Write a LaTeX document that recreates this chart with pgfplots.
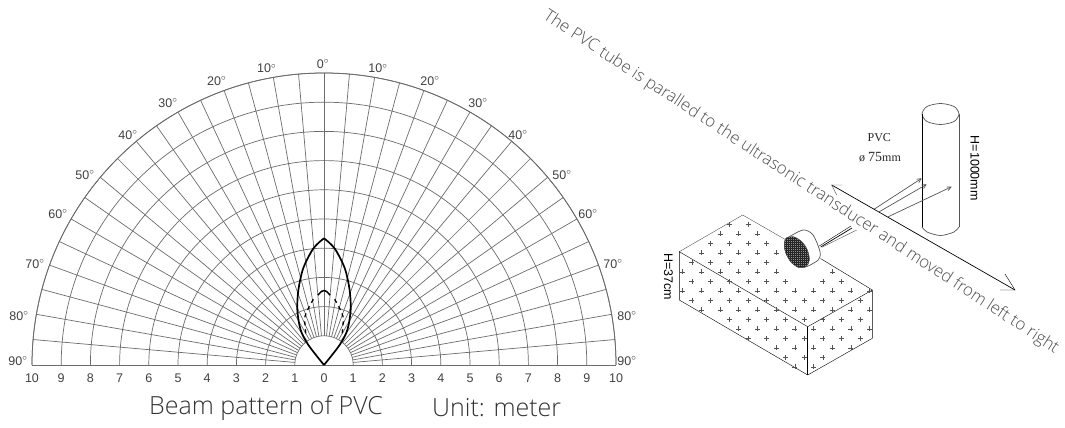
\documentclass[border=0pt]{standalone}
\usepackage{fontspec}
\setmainfont{Open Sans Light}
\newfontfamily\lib{Liberation Sans}
\newfontfamily\tnr{Liberation Serif}
\usepackage{pgfplots}
\pgfplotsset{compat=1.18}
\usepgfplotslibrary{polar}
\usetikzlibrary{arrows.meta,patterns}
\definecolor{gridc}{gray}{0.42}
\definecolor{sketch}{gray}{0.33}
\tikzset{lbl/.style={font=\lib\fontsize{12.5}{14}\selectfont, text=black!75, inner sep=0pt}}
% transducer face hatching
\pgfdeclarepatternformonly{finegrid}{\pgfqpoint{-0.2pt}{-0.2pt}}{\pgfqpoint{2pt}{2pt}}{\pgfqpoint{2pt}{2pt}}{
  \pgfsetlinewidth{0.8pt}
  \pgfpathmoveto{\pgfqpoint{0pt}{0pt}}\pgfpathlineto{\pgfqpoint{2pt}{0pt}}
  \pgfpathmoveto{\pgfqpoint{0pt}{0pt}}\pgfpathlineto{\pgfqpoint{0pt}{2pt}}
  \pgfusepath{stroke}}

\begin{document}
\begin{tikzpicture}
% canvas axis: coordinates are image pixels, y running down
\begin{axis}[
    at={(0,0)}, anchor=south west,
    scale only axis, width=1065pt, height=428pt,
    xmin=0, xmax=1065, ymin=0, ymax=428, y dir=reverse,
    hide axis, clip=false,
    cycle list={{sketch, mark=none, line width=0.7pt}},
  ]
  % box outline
  \addplot coordinates {(679.3,251.7)(742.7,215)(787,240.5)};
  \addplot coordinates {(820.5,258.5)(872.3,290)(807.7,326.7)(679.3,251.7)(679.3,300)(807.7,375)(872.3,338.3)(872.3,290)};
  \addplot coordinates {(807.7,326.7)(807.7,375)};
  % + marks on the box
  \addplot[only marks, mark=+, mark size=2.5pt, mark options={sketch, line width=0.6pt}] coordinates {
    (729.3,224.3)(748.0,224.3)
    (720.0,233.8)(738.7,233.8)(757.4,233.8)
    (710.6,243.3)(729.3,243.3)(748.0,243.3)(766.7,243.3)
    (701.3,252.8)(720.0,252.8)(738.7,252.8)(757.4,252.8)(776.1,252.8)
    (691.9,262.3)(710.6,262.3)(729.3,262.3)(748.0,262.3)(766.7,262.3)
    (682.6,271.8)(701.3,271.8)(720.0,271.8)(738.7,271.8)(757.4,271.8)(776.1,271.8)(832.2,271.8)
    (691.9,281.3)(710.6,281.3)(729.3,281.3)(748.0,281.3)(766.7,281.3)(785.4,281.3)(822.8,281.3)(841.5,281.3)
    (682.6,290.8)(701.3,290.8)(720.0,290.8)(738.7,290.8)(757.4,290.8)(776.1,290.8)(794.8,290.8)(813.5,290.8)(832.2,290.8)(850.9,290.8)(869.6,290.8)
    (691.9,300.3)(710.6,300.3)(729.3,300.3)(748.0,300.3)(766.7,300.3)(785.4,300.3)(804.1,300.3)(822.8,300.3)(841.5,300.3)(860.2,300.3)
    (701.3,309.8)(720.0,309.8)(738.7,309.8)(757.4,309.8)(776.1,309.8)(794.8,309.8)(813.5,309.8)(832.2,309.8)(850.9,309.8)(869.6,309.8)
    (729.3,319.3)(748.0,319.3)(766.7,319.3)(785.4,319.3)(804.1,319.3)(822.8,319.3)(841.5,319.3)(860.2,319.3)
    (738.7,328.8)(757.4,328.8)(776.1,328.8)(794.8,328.8)(813.5,328.8)(832.2,328.8)(850.9,328.8)(869.6,328.8)
    (748.0,338.3)(766.7,338.3)(785.4,338.3)(804.1,338.3)(822.8,338.3)(841.5,338.3)(860.2,338.3)
    (776.1,347.8)(794.8,347.8)(813.5,347.8)(832.2,347.8)(850.9,347.8)
    (785.4,357.3)(804.1,357.3)(822.8,357.3)
    (794.8,366.8)(813.5,366.8)
  };
  % transducer
  \addplot[sketch, line width=0.7pt, smooth] coordinates {(786.7,238.3)(803,230)(813,235)(820,251.7)(818.3,260)(806.7,266.7)};
  \addplot[black!60, fill=black!45, smooth cycle] coordinates {
    (786,238.3)(793.3,236.7)(801.7,241.7)(807.3,250)(809.3,260)(806,266.7)(798.3,267.3)(790.7,261.7)(785.7,252.7)(784.3,245)};
  \addplot[black!70, pattern=finegrid, pattern color=black!85, smooth cycle] coordinates {
    (786,238.3)(793.3,236.7)(801.7,241.7)(807.3,250)(809.3,260)(806,266.7)(798.3,267.3)(790.7,261.7)(785.7,252.7)(784.3,245)};
  \addplot coordinates {(819.3,246)(851,226)};
  \addplot coordinates {(820.7,247)(852,228)};
  \addplot coordinates {(821.7,247.3)(856.7,230)};
  % PVC tube
  \addplot[sketch, line width=0.7pt, smooth cycle] coordinates {(922,114)(927,106.5)(940.5,103.5)(954,106.5)(959,114)(954,121.5)(940.5,124.5)(927,121.5)};
  \addplot coordinates {(922,114)(922,227)};
  \addplot coordinates {(959,114)(959,227)};
  \addplot[sketch, line width=0.7pt, smooth] coordinates {(922,227)(927,232)(940.5,235.5)(954,232)(959,227)};
  % echoes
  \addplot[sketch, line width=0.7pt, -{Straight Barb[length=4pt,width=4pt]}] coordinates {(874,209.3)(921.7,178.3)};
  \addplot[sketch, line width=0.7pt, -{Straight Barb[length=4pt,width=4pt]}] coordinates {(879.3,211.7)(926.7,184.3)};
  \addplot[sketch, line width=0.7pt, -{Straight Barb[length=4pt,width=4pt]}] coordinates {(888.3,216.7)(951.7,186.7)};
  % motion arrow
  \addplot coordinates {(831.7,185)(1015,290)};
  \addplot coordinates {(842.7,185)(831.7,185)(836.7,195)};
  \addplot coordinates {(1000,290)(1015,290)(1005,274)};

  % texts
  \node[font=\fontsize{16.8}{18}\selectfont, text=black!70, rotate=-33.2, inner sep=0pt] at (axis cs:801,182.5)
    {The PVC tube is paralled to the ultrasonic transducer and moved from left to right};
  \node[font=\tnr\fontsize{12}{14}\selectfont, text=black!85, inner sep=0pt] at (axis cs:879.3,137.3) {PVC};
  \node[font=\tnr\fontsize{12}{14}\selectfont, text=black!85, inner sep=0pt] at (axis cs:880,156.7) {\o{} {\fontsize{14}{14}\selectfont 75}mm};
  \node[font=\lib\fontsize{12.5}{14}\selectfont, text=black, rotate=-90, inner sep=0pt] at (axis cs:975,168.3) {H=1000mm};
  \node[font=\lib\fontsize{12.5}{14}\selectfont, text=black, rotate=-90, inner sep=0pt] at (axis cs:668.3,276.7) {H=37cm};
  \node[font=\fontsize{25}{30}\selectfont, text=black!80, anchor=west, inner sep=0pt] at (axis cs:149,408) {Beam pattern of PVC};
  \node[font=\fontsize{25}{30}\selectfont, text=black!80, anchor=west, inner sep=0pt] at (axis cs:432,408) {Unit: meter};

  % angle labels
  \node[lbl] at (axis cs:323,64) {0$^{\circ}$};
  \node[lbl] at (axis cs:266.7,68.3) {10$^{\circ}$};
  \node[lbl] at (axis cs:216.7,80.7) {20$^{\circ}$};
  \node[lbl] at (axis cs:168,103) {30$^{\circ}$};
  \node[lbl] at (axis cs:128,135) {40$^{\circ}$};
  \node[lbl] at (axis cs:85,175) {50$^{\circ}$};
  \node[lbl] at (axis cs:58,214) {60$^{\circ}$};
  \node[lbl] at (axis cs:35,264) {70$^{\circ}$};
  \node[lbl] at (axis cs:19,316) {80$^{\circ}$};
  \node[lbl] at (axis cs:18,361) {90$^{\circ}$};
  \node[lbl] at (axis cs:378,68.3) {10$^{\circ}$};
  \node[lbl] at (axis cs:430,80.7) {20$^{\circ}$};
  \node[lbl] at (axis cs:478,103) {30$^{\circ}$};
  \node[lbl] at (axis cs:518,135) {40$^{\circ}$};
  \node[lbl] at (axis cs:562,175) {50$^{\circ}$};
  \node[lbl] at (axis cs:588,214) {60$^{\circ}$};
  \node[lbl] at (axis cs:613,264) {70$^{\circ}$};
  \node[lbl] at (axis cs:627,316) {80$^{\circ}$};
  \node[lbl] at (axis cs:627,361) {90$^{\circ}$};
  % range labels under the baseline
  \pgfplotsinvokeforeach{1,...,10}{
    \node[lbl] at (axis cs:{324-29.2*#1},378) {#1};
    \node[lbl] at (axis cs:{324+29.2*#1},378) {#1};
  }
  \node[lbl] at (axis cs:324,378) {0};
\end{axis}

% beam pattern: theta counted from the right baseline, r in metres
\begin{polaraxis}[
    at={(324pt,63pt)}, anchor=origin,
    scale only axis, width=584pt, height=584pt,
    xmin=0, xmax=180, ymin=0, ymax=10,
    xtick=\empty, ytick={1,2,...,10}, yticklabels={},
    ymajorgrids, major grid style={gridc, line width=0.7pt},
    major tick length=0pt,
    axis line style={gridc, line width=0.8pt},
    clip=false,
  ]
  \pgfplotsinvokeforeach{0,5,...,180}{
    \addplot[gridc, line width=0.7pt] coordinates {(#1,1)(#1,10)};
  }
  % outer contour
  \addplot[black, line width=1.7pt, smooth] coordinates {
    (90,4.34)(95.2,4.01)(102.1,3.39)(108.9,2.71)(115.9,2.09)(123.7,1.44)(128,0.87)(128,0)};
  \addplot[black, line width=1.7pt, smooth] coordinates {
    (90,4.34)(84.8,4.01)(77.9,3.39)(71.1,2.71)(64.1,2.09)(56.3,1.44)(52,0.87)(52,0)};
  % inner contour
  \addplot[black, line width=1.5pt, smooth] coordinates {(95,2.40)(92,2.52)(90,2.55)(88,2.52)(85,2.40)};
  \addplot[black, line width=1.3pt, dash pattern=on 4pt off 4pt, smooth] coordinates {
    (99.2,2.28)(105.5,2.01)(111.5,1.78)(115.4,1.52)(120,1.25)};
  \addplot[black, line width=1.3pt, dash pattern=on 4pt off 4pt, smooth] coordinates {
    (80.8,2.28)(74.5,2.01)(68.5,1.78)(64.6,1.52)(60,1.25)};
\end{polaraxis}
\pgfresetboundingbox
\useasboundingbox (0,0) rectangle (1065pt,428pt);
\end{tikzpicture}
\end{document}
